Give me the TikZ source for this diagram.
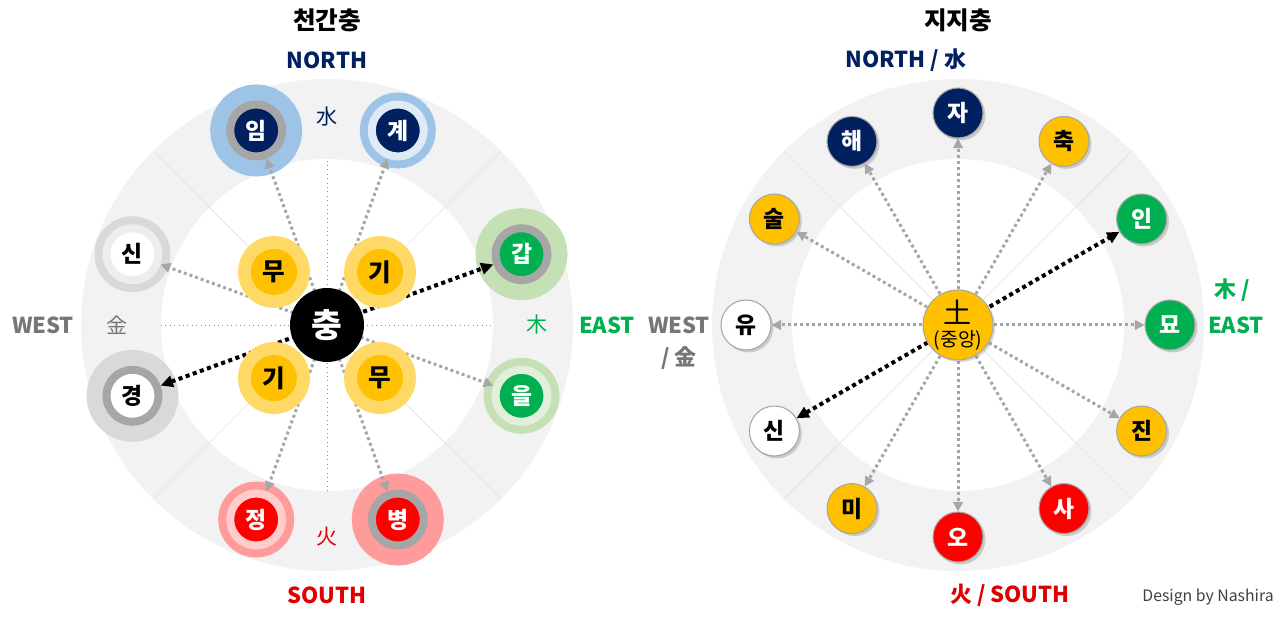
\documentclass[tikz,border=0pt]{standalone}
\usepackage{fontspec}
\setmainfont{Noto Sans CJK KR}
\usetikzlibrary{arrows.meta,shadows,calc}

\definecolor{navy}{HTML}{002060}
\definecolor{halblue}{HTML}{9DC3E6}
\definecolor{paleblue}{HTML}{DEEBF7}
\definecolor{wood}{HTML}{00B050}
\definecolor{halgreen}{HTML}{C5E0B4}
\definecolor{palegreen}{HTML}{E2F0D9}
\definecolor{fire}{HTML}{FF0000}
\definecolor{firetext}{HTML}{E00000}
\definecolor{halred}{HTML}{FF9B9B}
\definecolor{palered}{HTML}{FFCCCC}
\definecolor{halgray}{HTML}{D9D9D9}
\definecolor{palegray}{HTML}{EDEDED}
\definecolor{ringgray}{HTML}{A6A6A6}
\definecolor{earth}{HTML}{FFC000}
\definecolor{halearth}{HTML}{FFD966}
\definecolor{bandgray}{HTML}{F2F2F2}
\definecolor{metal}{HTML}{767676}

\begin{document}
\begin{tikzpicture}[
    x=0.02cm, y=0.02cm,
    font=\fontsize{12.5}{14}\selectfont\bfseries,
    stem/.style={circle, minimum size=1.04cm, inner sep=0pt, line width=0.16cm,
                 text=white, font=\fontsize{13}{13}\selectfont\bfseries},
    yang/.style args={#1/#2}{stem, fill=#1, draw=ringgray,
                 preaction={draw=#2, line width=0.8cm}},
    yin/.style args={#1/#2/#3}{stem, fill=#1, draw=#3,
                 preaction={draw=#2, line width=0.48cm}},
    earthstem/.style={circle, minimum size=0.92cm, inner sep=0pt, fill=earth,
                 preaction={draw=halearth, line width=0.52cm},
                 font=\fontsize{14}{14}\selectfont\bfseries},
    hub/.style={circle, minimum size=1.48cm, inner sep=0pt, fill=black, text=white,
                 font=\fontsize{19}{19}\selectfont\bfseries},
    branch/.style={circle, minimum size=1cm, inner sep=0pt, draw=ringgray, line width=0.6pt,
                 fill=#1, drop shadow={shadow xshift=1.4pt, shadow yshift=-1.4pt, opacity=0.35},
                 font=\fontsize{13}{13}\selectfont\bfseries},
    center/.style={circle, minimum size=1.4cm, inner sep=0pt, draw=ringgray, line width=0.6pt,
                 fill=earth, align=center,
                 drop shadow={shadow xshift=1.2pt, shadow yshift=-1.2pt, opacity=0.3}},
    spoke/.style={draw=ringgray, line width=1.7pt, dash pattern=on 1.7pt off 1.7pt,
                 -{Triangle[length=5.5pt,width=5.5pt]}},
    chung/.style={draw=black, line width=2.3pt, dash pattern=on 2.3pt off 2pt,
                 {Triangle[length=7pt,width=6.5pt]}-{Triangle[length=7pt,width=6.5pt]}},
    guide/.style={draw=black!45, line width=0.5pt, dotted},
    diag/.style={draw=black!11, line width=0.4pt},
    title/.style={font=\fontsize{14}{14}\selectfont\bfseries}
  ]
  \useasboundingbox (0,0) rectangle (1280,621);

  % ========= left: heavenly stems =========
  \coordinate (lc) at (327,296);
  \fill[bandgray] (lc) circle (246);
  \fill[white] (lc) circle (166);
  \draw[diag] ($(lc)+(45:246)$) -- ($(lc)+(225:246)$);
  \draw[diag] ($(lc)+(135:246)$) -- ($(lc)+(315:246)$);
  \draw[guide] ($(lc)+(-166,0)$) -- ($(lc)+(166,0)$);
  \draw[guide] ($(lc)+(0,-166)$) -- ($(lc)+(0,166)$);

  \node[yang={navy/halblue}]             (im)   at ($(lc)+(110:207)$) {임};
  \node[yin={navy/halblue/paleblue}]     (gye)  at ($(lc)+(70:207)$)  {계};
  \node[yang={wood/halgreen}]            (gap)  at ($(lc)+(20:207)$)  {갑};
  \node[yin={wood/halgreen/palegreen}]   (eul)  at ($(lc)+(-20:207)$) {을};
  \node[yang={fire/halred}]              (byeong) at ($(lc)+(-70:207)$) {병};
  \node[yin={fire/halred/palered}]       (jeong)  at ($(lc)+(-110:207)$) {정};
  \node[yang={white/halgray}, text=black] (gyeong) at ($(lc)+(200:207)$) {경};
  \node[yin={white/halgray/palegray}, text=black] (sin) at ($(lc)+(160:207)$) {신};

  \draw[spoke] (lc) -- (im);
  \draw[spoke] (lc) -- (gye);
  \draw[spoke] (lc) -- (eul);
  \draw[spoke] (lc) -- (byeong);
  \draw[spoke] (lc) -- (jeong);
  \draw[spoke] (lc) -- (sin);
  \draw[chung] (gyeong) -- (gap);

  \node[earthstem] (mu1) at ($(lc)+(135:75)$) {무};
  \node[earthstem] (gi1) at ($(lc)+(45:75)$)  {기};
  \node[earthstem] (gi2) at ($(lc)+(225:75)$) {기};
  \node[earthstem] (mu2) at ($(lc)+(315:75)$) {무};
  \node[hub] (hub) at (lc) {충};

  % labels
  \node[title] (ltitle) at (327,601) {천간충};
  \node[text=navy] (lnorth) at (327,561) {NORTH};
  \node[text=navy, font=\fontsize{12}{12}\selectfont] (lwater) at (327,504) {水};
  \node[text=firetext, font=\fontsize{12}{12}\selectfont] (lfire) at (327,84) {火};
  \node[text=firetext] (lsouth) at (327,26) {SOUTH};
  \node[text=metal] (lwest) at (43,296) {WEST};
  \node[text=metal, font=\fontsize{12}{12}\selectfont] (lmetal) at (117,296) {金};
  \node[text=wood, font=\fontsize{12}{12}\selectfont] (lwood) at (537,296) {木};
  \node[text=wood] (least) at (607,296) {EAST};

  % ========= right: earthly branches =========
  \coordinate (rc) at (958,296);
  \fill[bandgray] (rc) circle (246);
  \fill[white] (rc) circle (166);
  \draw[diag] ($(rc)+(45:246)$) -- ($(rc)+(225:246)$);
  \draw[diag] ($(rc)+(135:246)$) -- ($(rc)+(315:246)$);

  \node[branch=navy, text=white]  (ja)    at ($(rc)+(90:212)$)   {자};
  \node[branch=earth]             (chuk)  at ($(rc)+(60:212)$)   {축};
  \node[branch=wood, text=white]  (in)    at ($(rc)+(30:212)$)   {인};
  \node[branch=wood, text=white]  (myo)   at ($(rc)+(0:212)$)    {묘};
  \node[branch=earth]             (jin)   at ($(rc)+(-30:212)$)  {진};
  \node[branch=fire, text=white]  (sa)    at ($(rc)+(-60:212)$)  {사};
  \node[branch=fire, text=white]  (o)     at ($(rc)+(-90:212)$)  {오};
  \node[branch=earth]             (mi)    at ($(rc)+(-120:212)$) {미};
  \node[branch=white]             (sinb)  at ($(rc)+(-150:212)$) {신};
  \node[branch=white]             (yu)    at ($(rc)+(180:212)$)  {유};
  \node[branch=earth]             (sul)   at ($(rc)+(150:212)$)  {술};
  \node[branch=navy, text=white]  (hae)   at ($(rc)+(120:212)$)  {해};

  \draw[spoke] (rc) -- (ja);
  \draw[spoke] (rc) -- (chuk);
  \draw[spoke] (rc) -- (myo);
  \draw[spoke] (rc) -- (jin);
  \draw[spoke] (rc) -- (sa);
  \draw[spoke] (rc) -- (o);
  \draw[spoke] (rc) -- (mi);
  \draw[spoke] (rc) -- (yu);
  \draw[spoke] (rc) -- (sul);
  \draw[spoke] (rc) -- (hae);
  \draw[chung] (sinb) -- (in);

  \node[center] (to) at (rc)
    {{\fontsize{16}{16}\selectfont\mdseries 土}\\[-1pt]{\fontsize{11}{11}\selectfont\mdseries (중앙)}};

  % labels
  \node[title] (rtitle) at (958,601) {지지충};
  \node[text=navy] (rnorth) at (906,561) {NORTH / 水};
  \node[text=wood] (rwood) at (1232,331) {木 /};
  \node[text=wood] (reast) at (1236,296) {EAST};
  \node[text=metal] (rwest) at (679,296) {WEST};
  \node[text=metal] (rmetal) at (679,263) {/ 金};
  \node[text=firetext] (rsouth) at (1010,26) {火 / SOUTH};
  \node[text=black!75, font=\fontsize{9}{9}\selectfont\mdseries] (credit) at (1208,24) {Design by Nashira};

\end{tikzpicture}
\end{document}
